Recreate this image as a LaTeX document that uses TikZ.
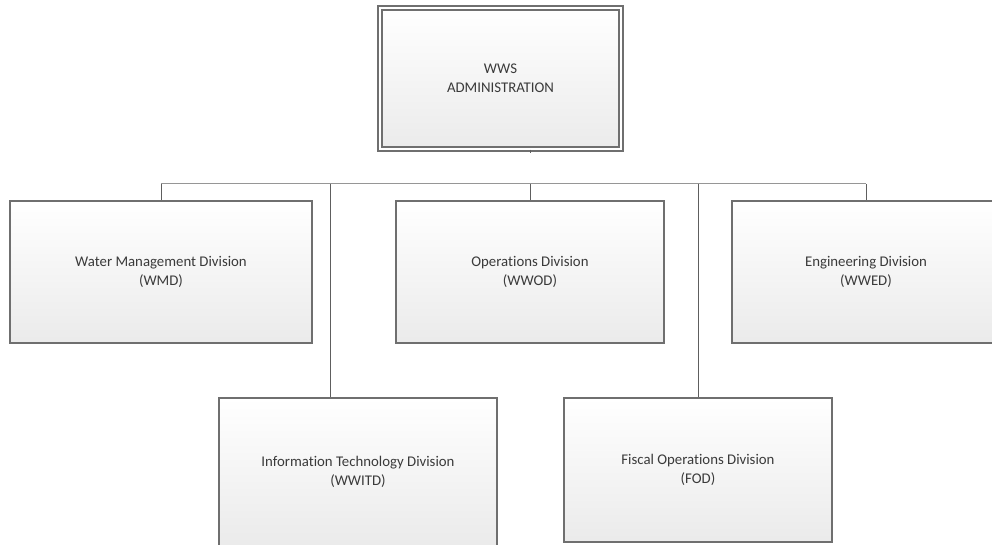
\documentclass[tikz,border=0pt]{standalone}
\usepackage{fontspec}
\setmainfont{Carlito}[Ligatures=NoCommon]
\usetikzlibrary{positioning, shadows}
\definecolor{boxline}{HTML}{6F6F6F}
\definecolor{linkline}{HTML}{969696}
\definecolor{dropline}{HTML}{5E5E5E}
\definecolor{boxtext}{HTML}{3A3A3A}

\begin{document}
\begin{tikzpicture}
	[x=0.5pt, y=-0.5pt,
	 unit/.style={draw=boxline, line width=1pt, top color=white, bottom color=black!8,
	   drop shadow={shadow xshift=0.7pt, shadow yshift=-0.7pt, opacity=0.3, fill=black!40},
	   align=center, text=boxtext, font=\fontsize{7.4}{9.5}\selectfont,
	   minimum width=134pt, minimum height=71pt, inner sep=0pt},
	 link/.style={draw=linkline, line width=0.5pt},
	 drop/.style={draw=dropline, line width=0.5pt}]
   \useasboundingbox (0,0) rectangle (992,545);
   \clip (0,0) rectangle (992,545);
   \node[unit, line width=0.75pt, double=white, double distance=1.2pt,
         minimum width=120.5pt, minimum height=70.5pt] (admin) at (500.5,78.5) {WWS\\ADMINISTRATION};
   \node[unit, minimum width=151pt] (wmd) at (161,272) {Water Management Division\\(WMD)};
   \node[unit] (ops) at (530,272) {Operations Division\\(WWOD)};
   \node[unit] (eng) at (866,272) {Engineering Division\\(WWED)};
   \node[unit, minimum width=139pt, minimum height=74pt] (itd) at (358,472) {Information Technology Division\\(WWITD)};
   \node[unit, minimum height=72pt] (fod) at (698,470) {Fiscal Operations Division\\(FOD)};
   \coordinate (itdtap) at (330,184);
   % connectors
   \draw[drop] (ops.north |- admin.south) -- ++(0,3);
   \draw[link] (wmd.north |- itdtap) -- (eng.north |- itdtap);
   \draw[drop] (wmd.north |- itdtap) -- (wmd.north);
   \draw[drop] (ops.north |- itdtap) -- (ops.north);
   \draw[drop] (eng.north |- itdtap) -- (eng.north);
   \draw[drop] (itdtap) -- (itdtap |- itd.north);
   \draw[drop] (fod.north |- itdtap) -- (fod.north);
\end{tikzpicture}
\end{document}
